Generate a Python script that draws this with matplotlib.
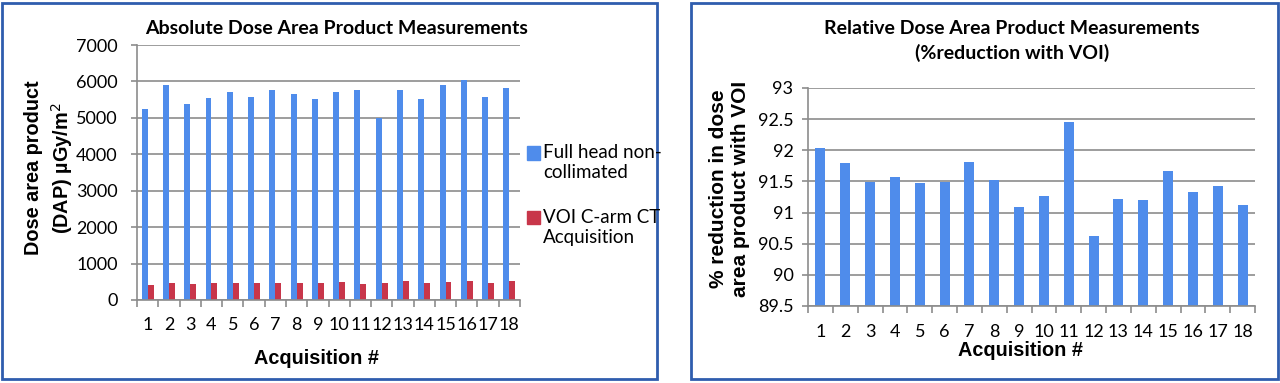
import matplotlib
matplotlib.use("Agg")
import matplotlib.pyplot as plt
import numpy as np
from matplotlib.patches import Rectangle

# Dados
aquisicoes = [str(i) for i in range(1, 19)]
dap_full = [5250, 5900, 5370, 5550, 5710, 5560, 5770, 5650, 5510,
            5700, 5770, 5000, 5770, 5530, 5900, 6030, 5570, 5830]
dap_voi = [410, 480, 450, 470, 480, 470, 470, 470, 480,
           490, 440, 460, 510, 480, 490, 520, 470, 510]
reducao = [92.03, 91.80, 91.49, 91.57, 91.47, 91.49, 91.81, 91.53, 91.09,
           91.27, 92.45, 90.63, 91.21, 91.20, 91.66, 91.33, 91.43, 91.12]
serie_nomes = [["Full head non-", "collimated"], ["VOI C-arm CT", "Acquisition"]]

AZUL = "#4F8CEB"
VERMELHO = "#C8364A"
GRADE = "#8C8C8C"
BORDA = "#2F5DAE"

W, H = 1280, 383
fig = plt.figure(figsize=(W / 100, H / 100), dpi=100)


def px(x0, y0, x1, y1):
    # caixa em pixels (topo-esquerda) -> coordenadas da figura
    return [x0 / W, 1 - y1 / H, (x1 - x0) / W, (y1 - y0) / H]


def texto(x, y, s, **kw):
    # texto posicionado em pixels (origem no topo-esquerda)
    kw.setdefault("ha", "center")
    kw.setdefault("va", "center")
    return fig.text(x / W, 1 - y / H, s, **kw)


def estilo(ax, ypad, xpad):
    for s in ["top", "right"]:
        ax.spines[s].set_visible(False)
    for s in ["left", "bottom"]:
        ax.spines[s].set_color(GRADE)
        ax.spines[s].set_linewidth(1.2)
    ax.yaxis.grid(True, color=GRADE, linewidth=1.2)
    ax.set_axisbelow(True)
    ax.tick_params(axis="y", length=4, width=1.2, color=GRADE, labelsize=13, pad=ypad)
    ax.tick_params(axis="x", which="major", length=0, labelsize=13, pad=xpad)
    ax.tick_params(axis="x", which="minor", length=5, width=1.2, color=GRADE)
    for lab in ax.get_xticklabels() + ax.get_yticklabels():
        lab.set_family("Lato")


# bordas dos painéis
fig.patches.append(Rectangle((1.5 / W, 4 / H), 655 / W, 376 / H, transform=fig.transFigure,
                             fill=False, edgecolor=BORDA, linewidth=2))
fig.patches.append(Rectangle((691 / W, 4 / H), 587 / W, 376 / H, transform=fig.transFigure,
                             fill=False, edgecolor=BORDA, linewidth=2))

# ─── Gráfico 1 — valores absolutos ───
x = np.arange(len(aquisicoes))
w = 0.28
ax1 = fig.add_axes(px(137, 45, 520, 300))
ax1.bar(x - w / 2, dap_full, w, color=AZUL)
ax1.bar(x + w / 2, dap_voi, w, color=VERMELHO)
ax1.set_xlim(-0.5, len(x) - 0.5)
ax1.set_ylim(0, 7000)
ax1.set_yticks(range(0, 7001, 1000))
ax1.set_xticks(x)
ax1.set_xticklabels(aquisicoes)
ax1.set_xticks(np.arange(-0.5, len(x)), minor=True)
estilo(ax1, ypad=10, xpad=12)

texto(337, 28, "Absolute Dose Area Product Measurements", family="Lato",
      fontweight="bold", fontsize=14)
texto(317, 358, "Acquisition #", family="Liberation Sans", fontweight="bold", fontsize=14.3)
texto(34, 168, "Dose area product", family="Liberation Sans", fontweight="bold",
      fontsize=14.3, rotation=90)
texto(62, 168, "(DAP) µGy/m$^2$", family="Liberation Sans", fontweight="bold",
      fontsize=14.3, rotation=90)

# legenda (quadrado alinhado com a primeira linha, como no original)
for cor, linhas, y0 in zip([AZUL, VERMELHO], serie_nomes, [153, 217]):
    fig.patches.append(Rectangle((527 / W, 1 - (y0 + 6.5) / H), 13 / W, 13 / H,
                                 transform=fig.transFigure, color=cor))
    for k, linha in enumerate(linhas):
        texto(543, y0 + 20 * k, linha, ha="left", family="Lato", fontsize=13.5)

# ─── Gráfico 2 — redução relativa ───
ax2 = fig.add_axes(px(808, 88, 1255, 306))
ax2.bar(x, reducao, 0.4, color=AZUL)
ax2.set_xlim(-0.5, len(x) - 0.5)
ax2.set_ylim(89.5, 93)
ax2.set_yticks(np.arange(89.5, 93.01, 0.5))
ax2.set_yticklabels(["89.5", "90", "90.5", "91", "91.5", "92", "92.5", "93"])
ax2.set_xticks(x)
ax2.set_xticklabels(aquisicoes)
ax2.set_xticks(np.arange(-0.5, len(x)), minor=True)
estilo(ax2, ypad=6.5, xpad=13)

texto(1012, 28, "Relative Dose Area Product Measurements", family="Lato",
      fontweight="bold", fontsize=14)
texto(1012, 53, "(%reduction with VOI)", family="Lato", fontweight="bold", fontsize=14)
texto(1020, 350, "Acquisition #", family="Liberation Sans", fontweight="bold", fontsize=14.3)
texto(718, 189, "% reduction in dose", family="Liberation Sans", fontweight="bold",
      fontsize=15, rotation=90)
texto(741, 189, "area product with VOI", family="Liberation Sans", fontweight="bold",
      fontsize=15, rotation=90)

fig.savefig("out.png", dpi=100)
